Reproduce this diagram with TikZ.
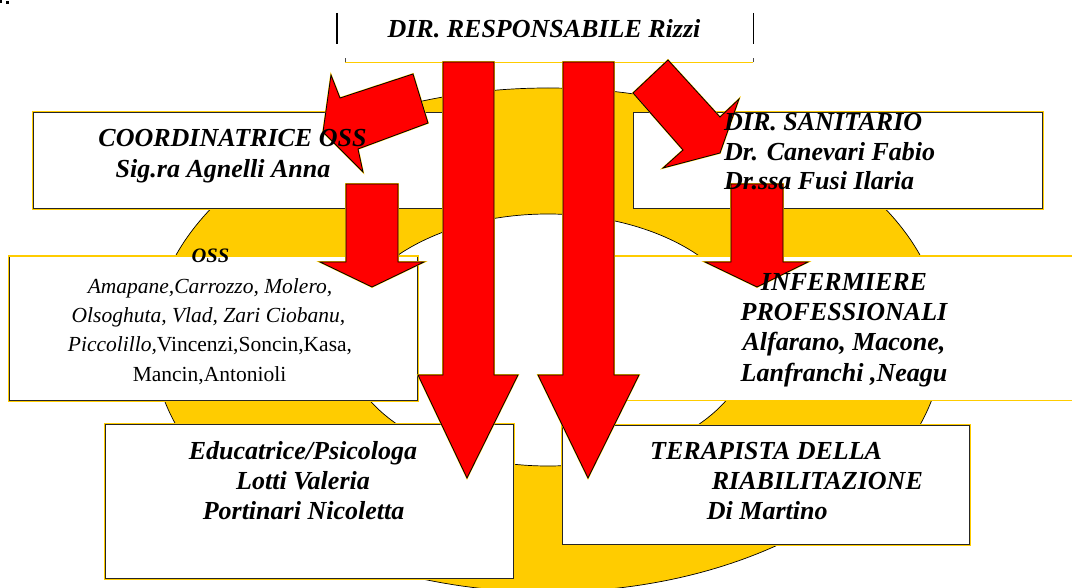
\documentclass[tikz,border=0pt]{standalone}
\usepackage{fontspec}
\setmainfont{Liberation Serif}
\definecolor{ringyellow}{HTML}{FFCC00}
\definecolor{arrowred}{HTML}{FF0000}
\tikzset{
  ring/.style={fill=ringyellow, draw=black, line width=0.7pt, even odd rule},
  box/.style={rectangle, inner sep=0pt, fill=white, draw=black!85, line width=1pt,
              preaction={draw=ringyellow, line width=2.4pt}},
  plainbox/.style={rectangle, inner sep=0pt, fill=white, draw=none},
  yline/.style={draw=ringyellow, line width=1.8pt},
  blockarrow/.style={fill=arrowred, draw=black, line width=0.8pt, line join=miter,
                     preaction={draw=ringyellow, line width=1.6pt}},
  bigtext/.style={font=\fontsize{26}{30}\selectfont\bfseries\itshape, inner sep=0pt},
  osstitle/.style={font=\fontsize{20.5}{24}\selectfont\bfseries\itshape, inner sep=0pt},
  smalltext/.style={font=\fontsize{21.5}{29.5}\selectfont\itshape, inner sep=0pt},
}
\begin{document}
\begin{tikzpicture}[x=1pt,y=-1pt]
\useasboundingbox (0,0) rectangle (1072,588);
\clip (0,0) rectangle (1072,588);

% tiny marks top-left
\fill[black] (0,0) rectangle (2,3);
\fill[black] (6,1) rectangle (9,4);

% yellow ring
\path[ring] (548,340) ellipse [x radius=395pt, y radius=252pt]
            (548,340) ellipse [x radius=203pt, y radius=126pt];

% top box
\node[plainbox, minimum width=416pt, minimum height=49pt, anchor=north west] (topbox) at (337,13) {};
\draw[black, line width=1.3pt] (topbox.north west) -- ++(0,31);
\draw[black, line width=1.3pt] (topbox.north east) -- ++(0,31);
\draw[yline, line width=1.4pt] ([xshift=8pt]topbox.south west) -- (topbox.south east);
\draw[black!70, line width=0.9pt] ([xshift=8pt]topbox.south west) -- ++(0,-4);
\draw[black!70, line width=0.9pt] (topbox.south east) -- ++(0,-4);

% boxes
\node[box, minimum width=410pt, minimum height=96pt, anchor=north west] (coordbox) at (33,112) {};
\node[box, minimum width=409pt, minimum height=96pt, anchor=north west] (sanbox) at (633,112) {};
\node[box, minimum width=408pt, minimum height=144pt, anchor=north west] (ossbox) at (9,256) {};
\draw[yline] (ossbox.north west) -- (ossbox.north east);
\node[plainbox, minimum width=500pt, minimum height=144pt, anchor=north west] (infbox) at (600,256) {};
\draw[yline] (infbox.north west) -- (infbox.north east);
\draw[yline] (infbox.south west) -- (infbox.south east);
\node[box, minimum width=408pt, minimum height=154pt, anchor=north west] (edubox) at (105,424) {};
\node[box, minimum width=407pt, minimum height=119pt, anchor=north west] (terbox) at (562,425) {};

% block arrows
\draw[blockarrow] (443,62) -- (494,62) -- (494,375) -- (518,375) -- (467,478) -- (418,375) -- (443,375) -- cycle;
\draw[blockarrow] (563,62) -- (614,62) -- (614,375) -- (639,375) -- (588,478) -- (538,375) -- (563,375) -- cycle;
\draw[blockarrow] (346,184) -- (398,184) -- (398,262) -- (424,262) -- (372,287) -- (320,262) -- (346,262) -- cycle;
\draw[blockarrow] (731,184) -- (783,184) -- (783,262) -- (808,262) -- (757,287) -- (705,262) -- (731,262) -- cycle;
\draw[blockarrow] (413,74) -- (340,98) -- (331,75) -- (323,132) -- (363,172) -- (358,149) -- (428,123) -- cycle;
\draw[blockarrow] (668,60) -- (633,93) -- (683,150) -- (663,168) -- (720,153) -- (739,99) -- (720,117) -- cycle;

% texts
\node[bigtext, anchor=base] (tTop) at (544,37.3) {DIR. RESPONSABILE Rizzi};

\node[bigtext, anchor=base] (tCo1) at (232.5,146.7) {COORDINATRICE OSS};
\node[bigtext, anchor=base] (tCo2) at (223,177.3) {Sig.ra Agnelli Anna};

\node[bigtext, anchor=base west] (tSa1) at (724,130.7) {DIR. SANITARIO};
\node[bigtext, anchor=base west] (tSa2) at (724,160.7) {Dr. Canevari Fabio};
\node[bigtext, anchor=base west] (tSa3) at (724,190) {Dr.ssa Fusi Ilaria};

\node[osstitle, anchor=base] (tOss) at (210.5,262.7) {OSS};
\node[smalltext, anchor=base] (tO1) at (210,293.3) {Amapane,Carrozzo, Molero,};
\node[smalltext, anchor=base] (tO2) at (208.5,322.7) {Olsoghuta, Vlad, Zari Ciobanu,};
\node[smalltext, anchor=base] (tO3) at (210,352) {Piccolillo,\upshape Vincenzi,Soncin,Kasa,};
\node[smalltext, anchor=base] (tO4) at (209.5,381.7) {\upshape Mancin,Antonioli};

\node[bigtext, anchor=base] (tIn1) at (844,290.7) {INFERMIERE};
\node[bigtext, anchor=base] (tIn2) at (844,320.7) {PROFESSIONALI};
\node[bigtext, anchor=base] (tIn3) at (844,350.7) {Alfarano, Macone,};
\node[bigtext, anchor=base] (tIn4) at (844,381.7) {Lanfranchi ,Neagu};

\node[bigtext, anchor=base] (tEd1) at (303,459.3) {Educatrice/Psicologa};
\node[bigtext, anchor=base] (tEd2) at (303,489.3) {Lotti Valeria};
\node[bigtext, anchor=base] (tEd3) at (303.5,519.3) {Portinari Nicoletta};

\node[bigtext, anchor=base west] (tTe1) at (650,459.3) {TERAPISTA DELLA};
\node[bigtext, anchor=base west] (tTe2) at (711.7,489.3) {RIABILITAZIONE};
\node[bigtext, anchor=base west] (tTe3) at (706.7,519.3) {Di Martino};
\end{tikzpicture}
\end{document}
